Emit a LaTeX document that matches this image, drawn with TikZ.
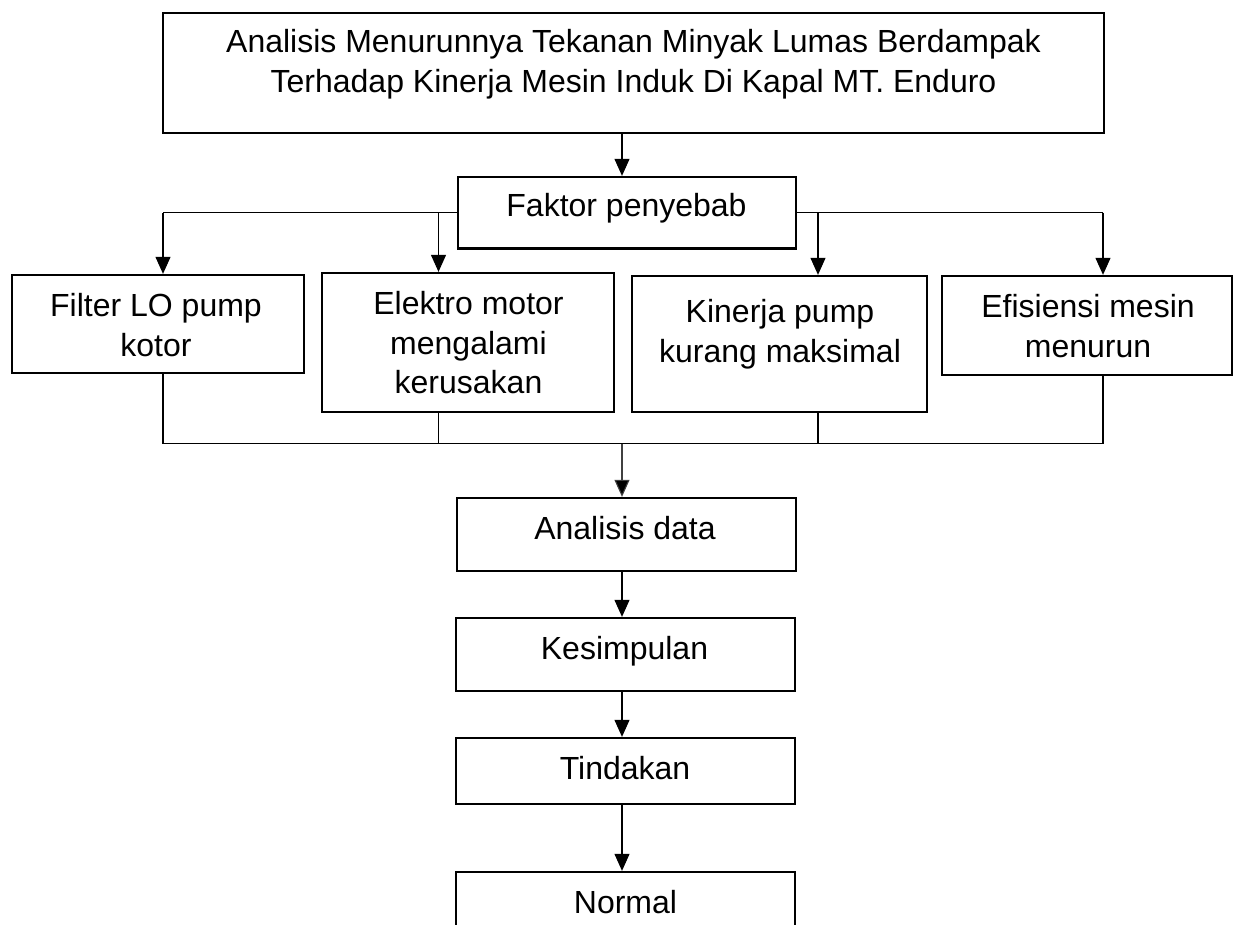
\documentclass[tikz,border=0pt]{standalone}
\usepackage{fontspec}
\setmainfont{Liberation Sans}
\usetikzlibrary{arrows.meta}
\begin{document}
\begin{tikzpicture}[x=1pt,y=-1pt,
  box/.style={draw=black, line width=2.3pt, rectangle, inner sep=0pt, fill=white},
  txt/.style={inner sep=0pt, anchor=base, font=\fontsize{32}{39.5}\selectfont},
  conn/.style={draw=black, line width=1.1pt},
  bconn/.style={draw=black, line width=1.7pt},
  arr/.style={conn, -{Triangle[length=17pt,width=15pt]}},
  garr/.style={draw=black!75, line width=1.1pt, -{Triangle[length=17pt,width=15pt,fill=black]}}
]
\useasboundingbox (0,0) rectangle (1235,925);
\clip (0,0) rectangle (1235,925);
\fill[white] (0,0) rectangle (1235,925);

% boxes
\node[box, minimum width=941pt, minimum height=120.5pt] (top) at (633.5,73) {};
\node[box, minimum width=338pt, minimum height=71.5pt] (faktor) at (627,212.75) {};
\node[box, minimum width=292pt, minimum height=98pt] (filter) at (158,324) {};
\node[box, minimum width=292pt, minimum height=139pt] (elektro) at (468,342.5) {};
\node[box, minimum width=295pt, minimum height=136pt] (kinerja) at (779.5,344) {};
\node[box, minimum width=290pt, minimum height=99pt] (efis) at (1087,325.5) {};
\node[box, minimum width=339pt, minimum height=73pt] (analisis) at (626.5,534.5) {};
\node[box, minimum width=339pt, minimum height=73pt] (kesimpulan) at (625.5,654.5) {};
\node[box, minimum width=339pt, minimum height=66pt] (tindakan) at (625.5,771) {};
\node[box, minimum width=339pt, minimum height=80pt] (normal) at (625.5,912) {};

% texts
\node[txt] (topt) at (633.5,53) {\begin{tabular}[t]{@{}c@{}}Analisis Menurunnya Tekanan Minyak Lumas Berdampak\\ Terhadap Kinerja Mesin Induk Di Kapal MT. Enduro\end{tabular}};
\node[txt] (faktort) at (626.5,217) {Faktor penyebab};
\node[txt] (filtert) at (156,317) {\begin{tabular}[t]{@{}c@{}}Filter LO pump\\ kotor\end{tabular}};
\node[txt] (elektrot) at (468.5,315) {\begin{tabular}[t]{@{}c@{}}Elektro motor\\ mengalami\\ kerusakan\end{tabular}};
\node[txt] (kinerjat) at (780,323) {\begin{tabular}[t]{@{}c@{}}Kinerja pump\\ kurang maksimal\end{tabular}};
\node[txt] (efist) at (1088,318) {\begin{tabular}[t]{@{}c@{}}Efisiensi mesin\\ menurun\end{tabular}};
\node[txt] (analisist) at (625,539) {Analisis data};
\node[txt] (kesimpulant) at (624.5,659) {Kesimpulan};
\node[txt] (tindakant) at (625,779) {Tindakan};
\node[txt] (normalt) at (625.5,913) {Normal};

% branch coordinates
\coordinate (c1) at (622,0);
\coordinate (b1) at (163,0);
\coordinate (b2) at (438.5,0);
\coordinate (b3) at (818,0);
\coordinate (b4) at (1103,0);
\coordinate (bus) at (0,443.5);

% top to faktor
\draw[arr] (top.south -| c1) -- (faktor.north -| c1);

% faktor to causes
\draw[conn] (faktor.west) -- (faktor.west -| b1);
\draw[conn] (faktor.east) -- (faktor.east -| b4);
\draw[arr] (faktor.west -| b1) -- (filter.north -| b1);
\draw[arr] (faktor.west -| b2) -- (elektro.north -| b2);
\draw[arr] (faktor.east -| b3) -- (kinerja.north -| b3);
\draw[arr] (faktor.east -| b4) -- (efis.north -| b4);

% causes to bus
\draw[bconn] (filter.south -| b1) -- (bus -| b1) -- (bus -| b4) -- (efis.south -| b4);
\draw[bconn] (elektro.south -| b2) -- (bus -| b2);
\draw[bconn] (kinerja.south -| b3) -- (bus -| b3);

% bus to lower chain
\draw[garr] (bus -| c1) -- (analisis.north -| c1);
\draw[arr] (analisis.south -| c1) -- (kesimpulan.north -| c1);
\draw[arr] (kesimpulan.south -| c1) -- (tindakan.north -| c1);
\draw[arr] (tindakan.south -| c1) -- (normal.north -| c1);
\end{tikzpicture}
\end{document}
